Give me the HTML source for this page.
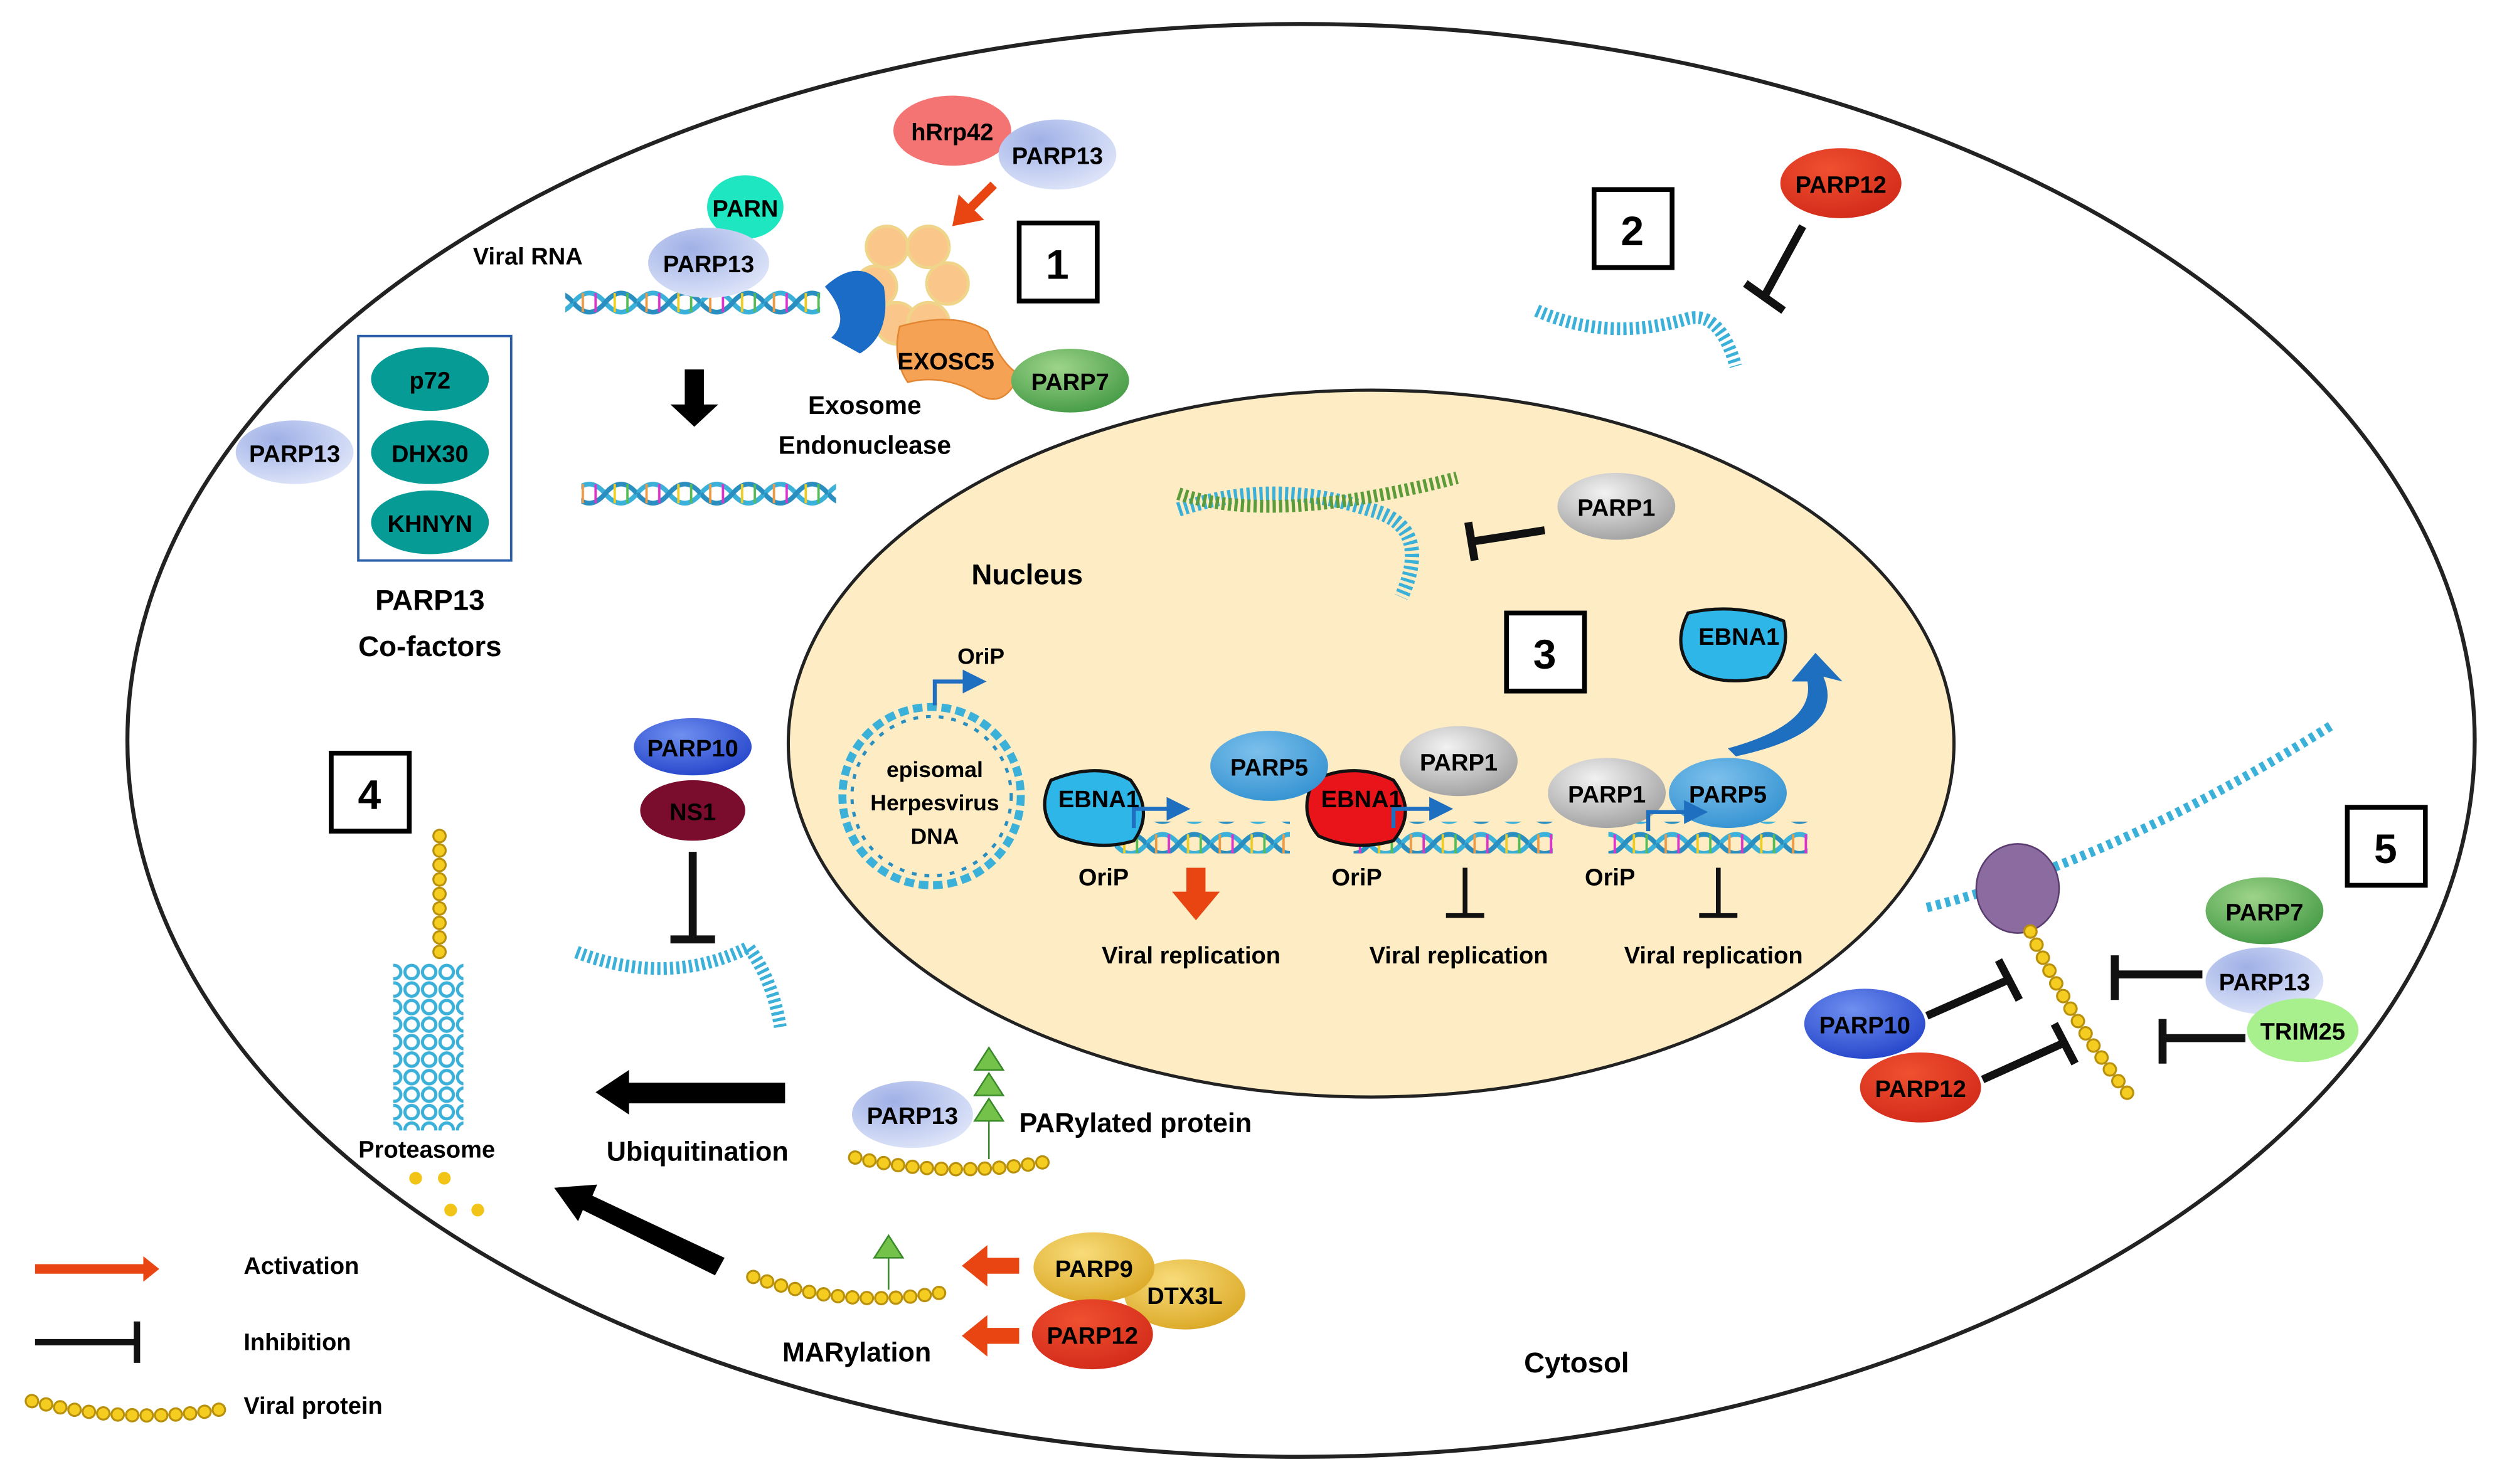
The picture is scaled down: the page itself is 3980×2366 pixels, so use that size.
<!DOCTYPE html>
<html><head><meta charset="utf-8"><style>
html,body{margin:0;padding:0;background:#fff}
svg{display:block}
text{font-family:"Liberation Sans",sans-serif;font-weight:bold;}
.bo{stroke:#b8900c;stroke-width:9;fill:none;stroke-linecap:round;stroke-dasharray:0.1 9}
.bi{stroke:#f5cc20;stroke-width:6.5;fill:none;stroke-linecap:round;stroke-dasharray:0.1 9}
</style></head><body>
<svg width="3980" height="2366" viewBox="0 0 1568 932" xmlns="http://www.w3.org/2000/svg">
<defs>
<radialGradient id="gb" cx="35%" cy="30%" r="80%"><stop offset="0" stop-color="#9fb0e6"/><stop offset="1" stop-color="#e2e8fa"/></radialGradient>
<radialGradient id="gg" cx="40%" cy="30%" r="80%"><stop offset="0" stop-color="#f2f2f2"/><stop offset="1" stop-color="#9a9a9a"/></radialGradient>
<radialGradient id="gr" cx="40%" cy="30%" r="80%"><stop offset="0" stop-color="#f05030"/><stop offset="1" stop-color="#d02818"/></radialGradient>
<radialGradient id="gp5" cx="40%" cy="30%" r="80%"><stop offset="0" stop-color="#7cc0ec"/><stop offset="1" stop-color="#2f8fcf"/></radialGradient>
<radialGradient id="gp10" cx="40%" cy="30%" r="80%"><stop offset="0" stop-color="#6f8ff0"/><stop offset="1" stop-color="#1f3fc8"/></radialGradient>
<radialGradient id="ggr" cx="40%" cy="30%" r="80%"><stop offset="0" stop-color="#9ed48a"/><stop offset="1" stop-color="#3d9640"/></radialGradient>
<radialGradient id="gy" cx="40%" cy="30%" r="80%"><stop offset="0" stop-color="#f8dc7a"/><stop offset="1" stop-color="#d9a420"/></radialGradient>
<pattern id="dna" width="40" height="20" patternUnits="userSpaceOnUse">
<path d="M0 10 Q10 -2 20 10 T40 10" stroke="#3bb0d8" stroke-width="3" fill="none"/>
<path d="M0 10 Q10 22 20 10 T40 10" stroke="#2a8fc0" stroke-width="3" fill="none"/>
<line x1="6" y1="4" x2="6" y2="16" stroke="#e94" stroke-width="1.5"/><line x1="14" y1="4" x2="14" y2="16" stroke="#d3c" stroke-width="1.5"/>
<line x1="26" y1="4" x2="26" y2="16" stroke="#ec2" stroke-width="1.5"/><line x1="34" y1="4" x2="34" y2="16" stroke="#5b5" stroke-width="1.5"/>
</pattern>
<pattern id="prot" width="11" height="11" patternUnits="userSpaceOnUse">
<circle cx="5.5" cy="5.5" r="4.2" fill="#fff" stroke="#3bb0d8" stroke-width="2"/>
</pattern>
<marker id="ah" markerWidth="6" markerHeight="6" refX="3" refY="3" orient="auto"><path d="M0 0L6 3L0 6z" fill="#1f6fc0"/></marker>
</defs>

<ellipse cx="817" cy="465" rx="737" ry="450" fill="#fff" stroke="#222" stroke-width="2.5"/>
<ellipse cx="861" cy="467" rx="366" ry="222" fill="#fdecc4" stroke="#222" stroke-width="2"/>

<g fill="#fff" stroke="#000" stroke-width="3">
<rect x="640" y="140" width="49" height="49"/><rect x="1001" y="119" width="49" height="49"/>
<rect x="946" y="385" width="49" height="49"/><rect x="208" y="473" width="49" height="49"/>
<rect x="1474" y="507" width="49" height="49"/>
</g>
<g font-size="26" text-anchor="middle">
<text x="664" y="175">1</text><text x="1025" y="154">2</text><text x="970" y="420">3</text><text x="232" y="508">4</text><text x="1498" y="542">5</text>
</g>

<text x="297" y="166" font-size="15" font-weight="normal">Viral RNA</text>
<rect x="355" y="180" width="160" height="22" fill="url(#dna)"/>
<rect x="365" y="298" width="160" height="22" fill="url(#dna)"/>
<path d="M430 232h12v22h9l-15 14-15-14h9z" fill="#000"/>
<ellipse cx="468" cy="130" rx="24" ry="20" fill="#1ee6c0"/>
<ellipse cx="445" cy="165" rx="38" ry="22" fill="url(#gb)"/>
<g fill="#fbc68a" stroke="#efd48a" stroke-width="2">
<circle cx="557" cy="155" r="13"/><circle cx="583" cy="155" r="13"/><circle cx="550" cy="180" r="13"/><circle cx="595" cy="178" r="13"/><circle cx="563" cy="203" r="13"/><circle cx="583" cy="203" r="13"/>
</g>
<path d="M518 180 Q540 160 555 180 Q560 210 540 222 L522 212 Q535 200 518 180z" fill="#1b6cc6"/>
<path d="M565 205 Q600 195 620 208 Q630 230 640 235 Q630 260 610 245 Q590 235 570 240 Q560 225 565 205z" fill="#f6a255" stroke="#e38632"/>
<text x="594" y="232" font-size="15" text-anchor="middle">EXOSC5</text>
<ellipse cx="672" cy="239" rx="37" ry="20" fill="url(#ggr)"/>
<text x="672" y="245" font-size="15" text-anchor="middle">PARP7</text>
<ellipse cx="598" cy="82" rx="37" ry="22" fill="#f47373"/>
<ellipse cx="664" cy="97" rx="37" ry="22" fill="url(#gb)"/>
<path d="M626 118l-14 14 6 6-20 4 4-20 6 6 14-14z" fill="#e84512"/>
<g font-size="15" text-anchor="middle">
<text x="468" y="136">PARN</text><text x="445" y="171">PARP13</text><text x="598" y="88">hRrp42</text><text x="664" y="103">PARP13</text>
<text x="543" y="260" font-size="16">Exosome</text><text x="543" y="285" font-size="16">Endonuclease</text>
</g>

<rect x="225" y="211" width="96" height="141" fill="none" stroke="#2a5ea8" stroke-width="1.5"/>
<ellipse cx="270" cy="238" rx="37" ry="20" fill="#079b96"/>
<ellipse cx="270" cy="284" rx="37" ry="20" fill="#079b96"/>
<ellipse cx="270" cy="328" rx="37" ry="20" fill="#079b96"/>
<ellipse cx="185" cy="284" rx="37" ry="20" fill="url(#gb)"/>
<g font-size="15" text-anchor="middle"><text x="270" y="244">p72</text><text x="270" y="290">DHX30</text><text x="270" y="334">KHNYN</text><text x="185" y="290">PARP13</text>
<text x="270" y="383" font-size="18">PARP13</text><text x="270" y="412" font-size="18">Co-factors</text></g>

<ellipse cx="1156" cy="115" rx="38" ry="22" fill="url(#gr)"/>
<text x="1156" y="121" font-size="15" text-anchor="middle">PARP12</text>
<path d="M1132 142 L1108 186 M1096 178 L1120 195" stroke="#111" stroke-width="5"/>
<path d="M965 195 Q1010 215 1060 200 Q1080 195 1090 230" stroke="#3bb0d8" stroke-width="8" fill="none" stroke-dasharray="2 2"/>

<text x="645" y="367" font-size="18" text-anchor="middle">Nucleus</text>
<path d="M740 320 Q800 300 860 320 Q900 330 880 375" stroke="#3bb0d8" stroke-width="9" fill="none" stroke-dasharray="2 2"/>
<path d="M740 310 Q800 330 915 300" stroke="#5b9b3a" stroke-width="8" fill="none" stroke-dasharray="2 2"/>
<ellipse cx="1015" cy="318" rx="37" ry="21" fill="url(#gg)"/>
<text x="1015" y="324" font-size="15" text-anchor="middle">PARP1</text>
<path d="M970 333 L925 340 M922 328 L926 352" stroke="#111" stroke-width="5"/>
<circle cx="585" cy="500" r="56" fill="none" stroke="#3bb0d8" stroke-width="5" stroke-dasharray="6 3"/>
<circle cx="585" cy="500" r="50" fill="none" stroke="#2a8fc0" stroke-width="2" stroke-dasharray="3 5"/>
<g font-size="14" text-anchor="middle"><text x="587" y="488">episomal</text><text x="587" y="509">Herpesvirus</text><text x="587" y="530">DNA</text><text x="616" y="417">OriP</text></g>
<path d="M587 443 V428 H612" stroke="#1f6fc0" stroke-width="2.5" fill="none" marker-end="url(#ah)"/>
<rect x="700" y="516" width="110" height="20" fill="url(#dna)"/>
<rect x="850" y="516" width="125" height="20" fill="url(#dna)"/>
<rect x="1010" y="516" width="125" height="20" fill="url(#dna)"/>
<path d="M660 490 Q690 478 710 490 Q725 510 712 528 Q690 535 665 525 Q650 510 660 490z" fill="#2fb6e8" stroke="#111" stroke-width="2"/>
<path d="M825 490 Q850 478 875 490 Q890 510 875 528 Q850 535 828 525 Q815 510 825 490z" fill="#e8141a" stroke="#111" stroke-width="2"/>
<path d="M1060 385 Q1090 378 1120 390 Q1125 410 1110 425 Q1080 432 1062 420 Q1050 405 1060 385z" fill="#2fb6e8" stroke="#111" stroke-width="2"/>
<ellipse cx="797" cy="481" rx="37" ry="22" fill="url(#gp5)"/>
<ellipse cx="916" cy="478" rx="37" ry="22" fill="url(#gg)"/>
<ellipse cx="1009" cy="498" rx="37" ry="22" fill="url(#gg)"/>
<ellipse cx="1085" cy="498" rx="37" ry="22" fill="url(#gp5)"/>
<path d="M712 520 V508 H740" stroke="#1f6fc0" stroke-width="2.5" fill="none" marker-end="url(#ah)"/>
<path d="M875 520 V508 H905" stroke="#1f6fc0" stroke-width="2.5" fill="none" marker-end="url(#ah)"/>
<path d="M1035 522 V510 H1065" stroke="#1f6fc0" stroke-width="2.5" fill="none" marker-end="url(#ah)"/>
<path d="M1090 475 Q1160 460 1145 425 L1157 428 L1140 410 L1125 428 L1135 428 Q1140 455 1085 470z" fill="#1f6fc0"/>
<g font-size="15" text-anchor="middle">
<text x="690" y="507">EBNA1</text><text x="855" y="507">EBNA1</text><text x="1092" y="405">EBNA1</text>
<text x="797" y="487">PARP5</text><text x="916" y="484">PARP1</text><text x="1009" y="504">PARP1</text><text x="1085" y="504">PARP5</text>
<text x="693" y="556">OriP</text><text x="852" y="556">OriP</text><text x="1011" y="556">OriP</text>
<text x="748" y="605">Viral replication</text><text x="916" y="605">Viral replication</text><text x="1076" y="605">Viral replication</text>
</g>
<path d="M745 545h12v15h9l-15 18-15-18h9z" fill="#e84512"/>
<path d="M920 545 V575 M908 575 H932 M1079 545 V575 M1067 575 H1091" stroke="#111" stroke-width="3"/>

<ellipse cx="435" cy="469" rx="37" ry="18" fill="url(#gp10)"/>
<ellipse cx="435" cy="509" rx="33" ry="19" fill="#7a0c2e"/>
<text x="435" y="475" font-size="15" text-anchor="middle">PARP10</text>
<text x="435" y="515" font-size="15" text-anchor="middle" fill="#000">NS1</text>
<path d="M435 535 V590 M421 590 H449" stroke="#111" stroke-width="5"/>
<path d="M362 598 Q420 620 470 595 Q485 615 490 645" stroke="#3bb0d8" stroke-width="8" fill="none" stroke-dasharray="2 2"/>
<rect x="247" y="605" width="44" height="105" fill="url(#prot)"/>
<path d="M276 525 V605" class="bo"/><path d="M276 525 V605" class="bi"/>
<g fill="#f2c418"><circle cx="261" cy="740" r="4"/><circle cx="279" cy="740" r="4"/><circle cx="283" cy="760" r="4"/><circle cx="300" cy="760" r="4"/></g>
<text x="268" y="727" font-size="15" text-anchor="middle">Proteasome</text>
<path d="M493 680 V693 H395 V700 L374 686 L395 672 V680z" fill="#000"/>
<text x="438" y="729" font-size="17" text-anchor="middle">Ubiquitination</text>
<path d="M455 790 L372 751 L375 744 L348 746 L363 767 L366 760 L449 801z" fill="#000"/>
<ellipse cx="573" cy="700" rx="38" ry="21" fill="url(#gb)"/>
<text x="573" y="706" font-size="15" text-anchor="middle">PARP13</text>
<path d="M537 727 Q595 740 655 730" class="bo"/><path d="M537 727 Q595 740 655 730" class="bi"/>
<g fill="#74c24a" stroke="#3a8a2a"><path d="M621 658 l-9 14 h18z"/><path d="M621 674 l-9 14 h18z"/><path d="M621 690 l-9 14 h18z"/><path d="M558 776 l-9 14 h18z"/></g>
<line x1="621" y1="704" x2="621" y2="728" stroke="#3a8a2a"/>
<line x1="558" y1="790" x2="558" y2="810" stroke="#3a8a2a"/>
<text x="640" y="711" font-size="17">PARylated protein</text>
<path d="M473 802 Q530 822 590 812" class="bo"/><path d="M473 802 Q530 822 590 812" class="bi"/>
<text x="538" y="855" font-size="17" text-anchor="middle">MARylation</text>
<path d="M640 790h-20v-8l-16 13 16 13v-8h20z" fill="#e84512"/>
<path d="M640 834h-20v-8l-16 13 16 13v-8h20z" fill="#e84512"/>
<ellipse cx="744" cy="813" rx="38" ry="22" fill="url(#gy)"/>
<ellipse cx="687" cy="796" rx="38" ry="22" fill="url(#gy)"/>
<ellipse cx="686" cy="838" rx="38" ry="22" fill="url(#gr)"/>
<g font-size="15" text-anchor="middle"><text x="687" y="802">PARP9</text><text x="744" y="819">DTX3L</text><text x="686" y="844">PARP12</text></g>

<path d="M1210 570 Q1330 540 1465 455" stroke="#3bb0d8" stroke-width="6" fill="none" stroke-dasharray="3 3"/>
<ellipse cx="1267" cy="558" rx="26" ry="28" fill="#8c6ca0" stroke="#5a3d6e"/>
<path d="M1275 585 Q1300 640 1337 688" class="bo"/><path d="M1275 585 Q1300 640 1337 688" class="bi"/>
<ellipse cx="1422" cy="572" rx="37" ry="21" fill="url(#ggr)"/>
<ellipse cx="1422" cy="616" rx="37" ry="21" fill="url(#gb)"/>
<ellipse cx="1446" cy="647" rx="35" ry="20" fill="#a8f08e"/>
<ellipse cx="1171" cy="643" rx="38" ry="22" fill="url(#gp10)"/>
<ellipse cx="1206" cy="683" rx="38" ry="22" fill="url(#gr)"/>
<g font-size="15" text-anchor="middle"><text x="1422" y="578">PARP7</text><text x="1422" y="622">PARP13</text><text x="1446" y="653">TRIM25</text><text x="1171" y="649">PARP10</text><text x="1206" y="689">PARP12</text></g>
<g stroke="#111" stroke-width="5">
<path d="M1383 612 H1330 M1328 600 V628"/><path d="M1410 652 H1360 M1358 640 V668"/>
<path d="M1210 638 L1262 615 M1255 603 L1268 628"/><path d="M1245 678 L1296 655 M1290 643 L1303 668"/>
</g>

<text x="990" y="862" font-size="18" text-anchor="middle">Cytosol</text>

<path d="M22 794 H90 V789 L100 797 L90 805 V800 H22z" fill="#e84512"/>
<path d="M22 843 H86 M86 830 V856" stroke="#111" stroke-width="4"/>
<path d="M20 880 Q80 895 140 885" class="bo"/><path d="M20 880 Q80 895 140 885" class="bi"/>
<g font-size="15"><text x="153" y="800">Activation</text><text x="153" y="848">Inhibition</text><text x="153" y="888">Viral protein</text></g>
</svg>
</body></html>
